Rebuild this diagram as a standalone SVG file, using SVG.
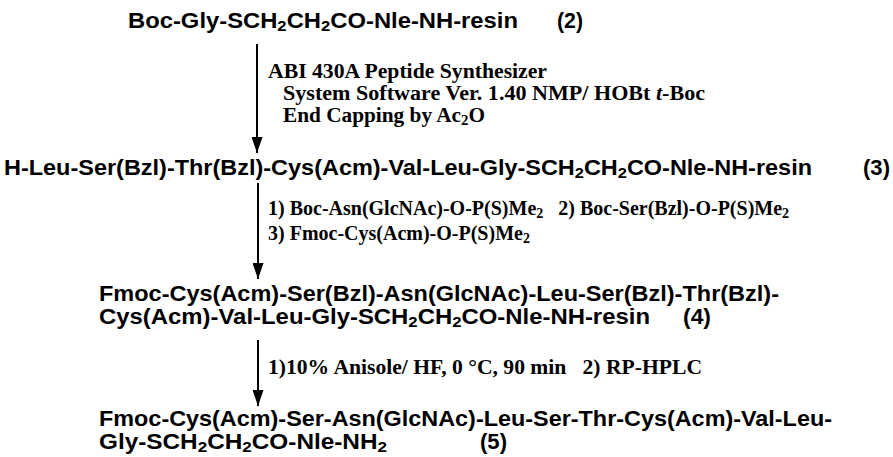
<svg xmlns="http://www.w3.org/2000/svg" width="893" height="457" viewBox="0 0 893 457">
<defs>
<style>
.m{font-family:"Liberation Sans",Arial,Helvetica,sans-serif;font-weight:bold;font-size:22px;fill:#000}
.r{font-family:"Liberation Serif","Times New Roman",serif;font-weight:bold;font-size:20px;fill:#000}
.s{font-size:70%;baseline-shift:-22%}
.ln{stroke:#000;stroke-width:2;fill:none}
</style>
<marker id="ah" viewBox="0 0 16 11" refX="16" refY="5.5" markerWidth="16" markerHeight="11" markerUnits="userSpaceOnUse" orient="auto">
<path d="M0,0 L16,5.5 L0,11 Z" fill="#000"/>
</marker>
</defs>
<rect width="893" height="457" fill="#fff"/>
<g id="connectors">
<line class="ln" x1="257" y1="44" x2="257" y2="153" marker-end="url(#ah)"/>
<line class="ln" x1="258" y1="183" x2="258" y2="279" marker-end="url(#ah)"/>
<line class="ln" x1="258" y1="340" x2="258" y2="406" marker-end="url(#ah)"/>
</g>
<g id="n2">
<text class="m" x="128" y="28" textLength="390" lengthAdjust="spacingAndGlyphs">Boc-Gly-SCH<tspan class="s">2</tspan>CH<tspan class="s">2</tspan>CO-Nle-NH-resin</text>
<text class="m" x="557" y="28" textLength="26" lengthAdjust="spacingAndGlyphs">(2)</text>
</g>
<g id="step1">
<text class="r" x="268" y="78" textLength="279" lengthAdjust="spacingAndGlyphs">ABI 430A Peptide Synthesizer</text>
<text class="r" x="283" y="100" textLength="422" lengthAdjust="spacingAndGlyphs">System Software Ver. 1.40 NMP/ HOBt <tspan font-style="italic">t</tspan>-Boc</text>
<text class="r" x="283" y="122" textLength="202" lengthAdjust="spacingAndGlyphs">End Capping by Ac<tspan class="s">2</tspan>O</text>
</g>
<g id="n3">
<text class="m" x="4" y="175" textLength="808" lengthAdjust="spacingAndGlyphs">H-Leu-Ser(Bzl)-Thr(Bzl)-Cys(Acm)-Val-Leu-Gly-SCH<tspan class="s">2</tspan>CH<tspan class="s">2</tspan>CO-Nle-NH-resin</text>
<text class="m" x="863" y="175" textLength="27" lengthAdjust="spacingAndGlyphs">(3)</text>
</g>
<g id="step2">
<text class="r" x="268" y="215" xml:space="preserve">1) Boc-Asn(GlcNAc)-O-P(S)Me<tspan class="s">2</tspan>   2) Boc-Ser(Bzl)-O-P(S)Me<tspan class="s">2</tspan></text>
<text class="r" x="268" y="240">3) Fmoc-Cys(Acm)-O-P(S)Me<tspan class="s">2</tspan></text>
</g>
<g id="n4">
<text class="m" x="99" y="301" textLength="680" lengthAdjust="spacingAndGlyphs">Fmoc-Cys(Acm)-Ser(Bzl)-Asn(GlcNAc)-Leu-Ser(Bzl)-Thr(Bzl)-</text>
<text class="m" x="99" y="324" textLength="551" lengthAdjust="spacingAndGlyphs">Cys(Acm)-Val-Leu-Gly-SCH<tspan class="s">2</tspan>CH<tspan class="s">2</tspan>CO-Nle-NH-resin</text>
<text class="m" x="683" y="324" textLength="28" lengthAdjust="spacingAndGlyphs">(4)</text>
</g>
<g id="step3">
<text class="r" x="268" y="374" textLength="434" lengthAdjust="spacingAndGlyphs" xml:space="preserve">1)10% Anisole/ HF, 0 °C, 90 min   2) RP-HPLC</text>
</g>
<g id="n5">
<text class="m" x="99" y="426" textLength="733" lengthAdjust="spacingAndGlyphs">Fmoc-Cys(Acm)-Ser-Asn(GlcNAc)-Leu-Ser-Thr-Cys(Acm)-Val-Leu-</text>
<text class="m" x="99" y="449" textLength="288" lengthAdjust="spacingAndGlyphs">Gly-SCH<tspan class="s">2</tspan>CH<tspan class="s">2</tspan>CO-Nle-NH<tspan class="s">2</tspan></text>
<text class="m" x="480" y="449" textLength="27" lengthAdjust="spacingAndGlyphs">(5)</text>
</g>
</svg>
